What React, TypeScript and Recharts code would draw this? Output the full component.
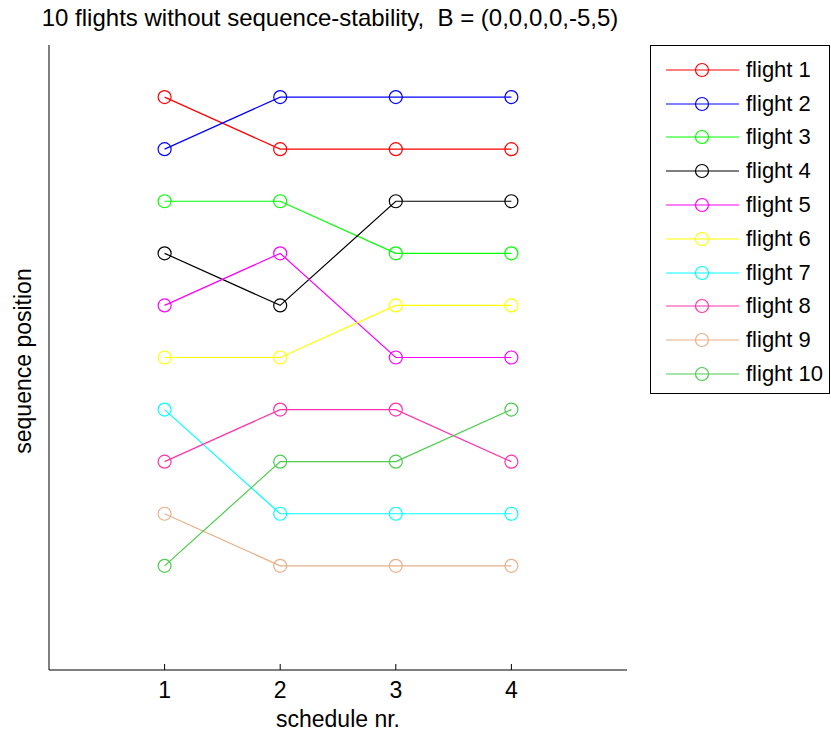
import { LineChart, Line, XAxis, YAxis } from "recharts";

const schedules = [1, 2, 3, 4];

const flightNames = [
  "flight 1", "flight 2", "flight 3", "flight 4", "flight 5",
  "flight 6", "flight 7", "flight 8", "flight 9", "flight 10",
];

// sequence position per schedule nr.
const flight1 = [1, 2, 2, 2];
const flight2 = [2, 1, 1, 1];
const flight3 = [3, 3, 4, 4];
const flight4 = [4, 5, 3, 3];
const flight5 = [5, 4, 6, 6];
const flight6 = [6, 6, 5, 5];
const flight7 = [7, 9, 9, 9];
const flight8 = [8, 7, 7, 8];
const flight9 = [9, 10, 10, 10];
const flight10 = [10, 8, 8, 7];

const flightSeries = [
  flight1, flight2, flight3, flight4, flight5,
  flight6, flight7, flight8, flight9, flight10,
];

const flightColors = [
  "#ff0000", "#0000ff", "#00ff00", "#000000", "#ff00ff",
  "#ffff00", "#00ffff", "#ff33aa", "#e8b088", "#4ccc4c",
];

const xTicks = [1, 2, 3, 4];

const data = schedules.map((x, i) => {
  const row: Record<string, number> = { x };
  flightSeries.forEach((s, k) => {
    row[`f${k + 1}`] = s[i];
  });
  return row;
});

const FONT = "'Liberation Sans', Arial, sans-serif";

// label only; the inward tick marks come from the negative tickSize
const XTick = (props: any) => {
  const { x, y, payload } = props;
  return (
    <text x={x} y={y + 28} textAnchor="middle" fontFamily={FONT} fontSize={23} fill="#000">
      {payload.value}
    </text>
  );
};

export default function App() {
  return (
    <div style={{ position: "absolute", left: 0, top: 0, width: 831, height: 738, background: "#fff", fontFamily: FONT, color: "#000" }}>
      <LineChart width={831} height={738} data={data} margin={{ top: 45, right: 204, bottom: 38, left: 48 }}>
        <XAxis
          dataKey="x"
          type="number"
          domain={[0, 5]}
          ticks={xTicks}
          height={30}
          tickSize={-6}
          tickMargin={6}
          tickLine={{ stroke: "#000" }}
          tick={XTick}
          axisLine={{ stroke: "#000" }}
        />
        <YAxis
          type="number"
          domain={[0, 12]}
          reversed
          width={1}
          tick={false}
          tickLine={false}
          axisLine={{ stroke: "#000" }}
        />
        {flightNames.map((name, k) => (
          <Line
            key={name}
            name={name}
            dataKey={`f${k + 1}`}
            stroke={flightColors[k]}
            strokeWidth={1.2}
            dot={{ r: 6.5, fill: "none", stroke: flightColors[k], strokeWidth: 1.2 }}
            activeDot={false}
            isAnimationActive={false}
          />
        ))}
      </LineChart>

      <div style={{ position: "absolute", left: 30, width: 600, top: 4, textAlign: "center", fontSize: 24, whiteSpace: "pre" }}>
        {"10 flights without sequence-stability,  B = (0,0,0,0,-5,5)"}
      </div>

      <div style={{ position: "absolute", left: 49, width: 578, top: 706, textAlign: "center", fontSize: 23 }}>
        schedule nr.
      </div>

      <div
        style={{
          position: "absolute",
          left: 23,
          top: 361,
          transform: "translate(-50%, -50%) rotate(-90deg)",
          fontSize: 23,
          whiteSpace: "nowrap",
        }}
      >
        sequence position
      </div>

      <div style={{ position: "absolute", left: 650, top: 45, width: 180, height: 349, border: "1px solid #000", boxSizing: "border-box", paddingTop: 7 }}>
        {flightNames.map((name, k) => (
          <div key={name} style={{ height: 33.8, display: "flex", alignItems: "center" }}>
            <svg width={92} height={20} style={{ flex: "none" }}>
              <line x1={15} x2={88} y1={10} y2={10} stroke={flightColors[k]} strokeWidth={1.2} />
              <circle cx={51} cy={10} r={6.5} fill="none" stroke={flightColors[k]} strokeWidth={1.2} />
            </svg>
            <span style={{ fontSize: 22, marginLeft: 3, lineHeight: "24px" }}>{name}</span>
          </div>
        ))}
      </div>
    </div>
  );
}
